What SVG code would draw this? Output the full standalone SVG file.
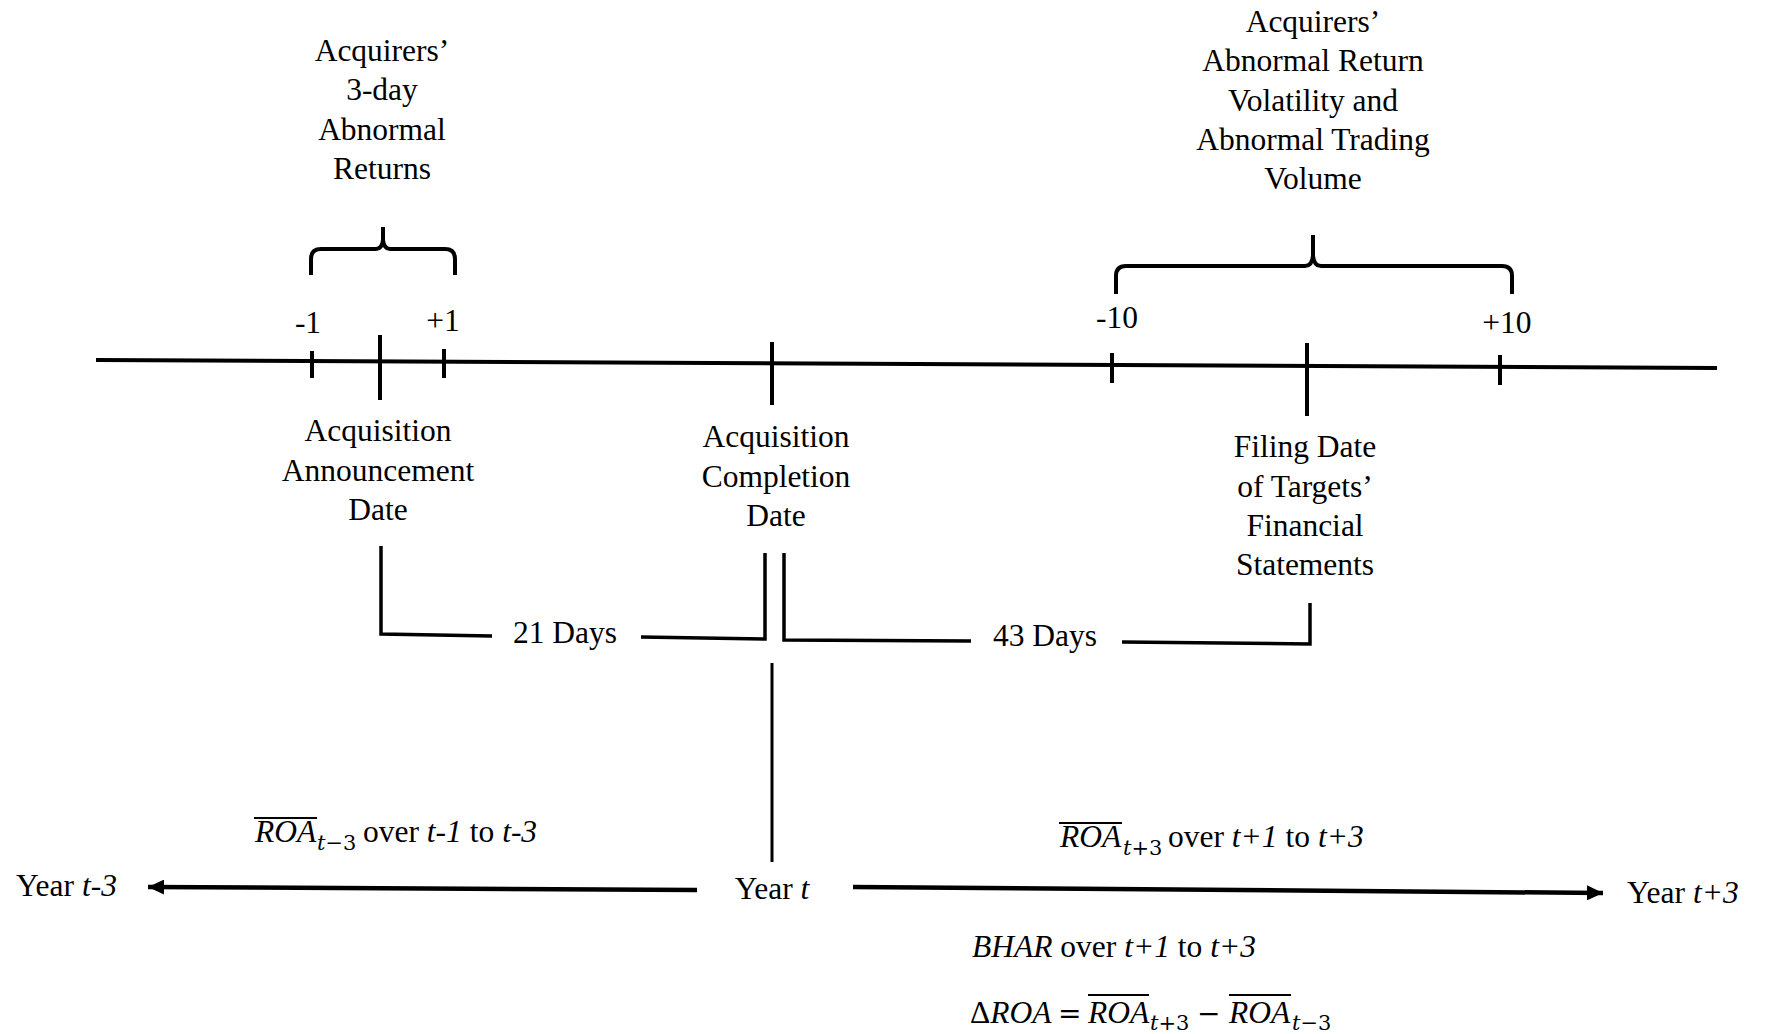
<svg xmlns="http://www.w3.org/2000/svg" width="1766" height="1034" viewBox="0 0 1766 1034">
<style>
.t{font-family:"Liberation Serif","Times New Roman",serif;font-size:31.5px;fill:#000}
.c{text-anchor:middle}
.i{font-style:italic}
.sub{font-family:"DejaVu Serif","Liberation Serif",serif;font-size:21px;fill:#000}
.op{font-family:"DejaVu Serif","Liberation Serif",serif;font-size:28px;fill:#000}
.ln{stroke:#000;stroke-width:3.5;fill:none;stroke-linecap:butt}
.tk{stroke:#000;stroke-width:4;fill:none}
.ov{stroke:#000;stroke-width:2}
</style>
<defs>
<marker id="ah" markerUnits="userSpaceOnUse" markerWidth="16" markerHeight="15" refX="16" refY="7.5" orient="auto">
<path d="M0,0 L16,7.5 L0,15 Z" fill="#000"/>
</marker>
</defs>
<rect width="1766" height="1034" fill="#fff"/>

<g id="connectors">
<line id="timeline" x1="96" y1="360" x2="1717" y2="368" class="tk"/>
<line x1="312" y1="351" x2="312" y2="378" class="tk"/>
<line x1="380" y1="335" x2="380" y2="400" class="tk"/>
<line x1="444" y1="349" x2="444" y2="378" class="tk"/>
<line x1="772" y1="342" x2="772" y2="405" class="tk"/>
<line x1="1112" y1="353" x2="1112" y2="383" class="tk"/>
<line x1="1307" y1="343" x2="1307" y2="416" class="tk"/>
<line x1="1500" y1="355" x2="1500" y2="385" class="tk"/>
<path class="tk" d="M311,275 V259 Q311,249 321,249 H376 Q382,249 383,240 V227 M383,240 Q384,249 390,249 H445 Q455,249 455,259 V275"/>
<path class="tk" d="M1116,294 V276 Q1116,266 1126,266 H1305 Q1312,266 1313,256 V235 M1313,256 Q1314,266 1321,266 H1502 Q1512,266 1512,276 V294"/>
<path class="ln" d="M381,546 V634 L492,636"/>
<path class="ln" d="M641,637 L765,639 V553"/>
<path class="ln" d="M784,553 V640 L971,641"/>
<path class="ln" d="M1122,642 L1310,644 V603"/>
<line x1="772" y1="663" x2="772" y2="862" stroke="#000" stroke-width="3"/>
<line x1="697" y1="890" x2="148" y2="887" stroke="#000" stroke-width="4.5" marker-end="url(#ah)"/>
<line x1="853" y1="887" x2="1603" y2="893" stroke="#000" stroke-width="4.5" marker-end="url(#ah)"/>
</g>

<g id="label-3day">
<text class="t c" x="382" y="61">Acquirers’</text>
<text class="t c" x="382" y="100">3-day</text>
<text class="t c" x="382" y="140">Abnormal</text>
<text class="t c" x="382" y="179">Returns</text>
</g>
<g id="label-volatility">
<text class="t c" x="1313" y="32">Acquirers’</text>
<text class="t c" x="1313" y="71">Abnormal Return</text>
<text class="t c" x="1313" y="111">Volatility and</text>
<text class="t c" x="1313" y="150">Abnormal Trading</text>
<text class="t c" x="1313" y="189">Volume</text>
</g>
<g id="ticks-labels">
<text class="t c" x="308" y="333">-1</text>
<text class="t c" x="443" y="331">+1</text>
<text class="t c" x="1117" y="328">-10</text>
<text class="t c" x="1507" y="333">+10</text>
</g>
<g id="node-announcement">
<text class="t c" x="378" y="441">Acquisition</text>
<text class="t c" x="378" y="481">Announcement</text>
<text class="t c" x="378" y="520">Date</text>
</g>
<g id="node-completion">
<text class="t c" x="776" y="447">Acquisition</text>
<text class="t c" x="776" y="487">Completion</text>
<text class="t c" x="776" y="526">Date</text>
</g>
<g id="node-filing">
<text class="t c" x="1305" y="457">Filing Date</text>
<text class="t c" x="1305" y="497">of Targets’</text>
<text class="t c" x="1305" y="536">Financial</text>
<text class="t c" x="1305" y="575">Statements</text>
</g>
<g id="label-21days">
<text class="t c" x="565" y="643">21 Days</text>
</g>
<g id="label-43days">
<text class="t c" x="1045" y="646">43 Days</text>
</g>
<g id="node-year-t-3">
<text class="t" x="16" y="896">Year <tspan class="i">t-3</tspan></text>
</g>
<g id="node-year-t">
<text class="t c" x="772" y="899">Year <tspan class="i">t</tspan></text>
</g>
<g id="node-year-t+3">
<text class="t" x="1627" y="903">Year <tspan class="i">t+3</tspan></text>
</g>
<g id="label-roa-before">
<text class="t i" x="255" y="842">ROA</text>
<line class="ov" x1="254" y1="818" x2="317" y2="818"/>
<text class="sub" x="317" y="850"><tspan font-style="italic">t</tspan>−3</text>
<text class="t" x="363" y="842">over <tspan class="i">t-1</tspan> to <tspan class="i">t-3</tspan></text>
</g>
<g id="label-roa-after">
<text class="t i" x="1060" y="847">ROA</text>
<line class="ov" x1="1059" y1="823" x2="1122" y2="823"/>
<text class="sub" x="1123" y="855"><tspan font-style="italic">t</tspan>+3</text>
<text class="t" x="1168" y="847">over <tspan class="i">t+1</tspan> to <tspan class="i">t+3</tspan></text>
</g>
<g id="label-bhar">
<text class="t" x="972" y="957"><tspan class="i">BHAR</tspan> over <tspan class="i">t+1</tspan> to <tspan class="i">t+3</tspan></text>
</g>
<g id="label-delta-roa">
<text class="t" x="970" y="1023">Δ<tspan class="i">ROA</tspan></text>
<text class="op" x="1058" y="1023">=</text>
<text class="t i" x="1088" y="1023">ROA</text>
<line class="ov" x1="1088" y1="995" x2="1149" y2="995"/>
<text class="sub" x="1150" y="1030"><tspan font-style="italic">t</tspan>+3</text>
<text class="op" x="1197" y="1023">−</text>
<text class="t i" x="1229" y="1023">ROA</text>
<line class="ov" x1="1229" y1="995" x2="1291" y2="995"/>
<text class="sub" x="1292" y="1030"><tspan font-style="italic">t</tspan>−3</text>
</g>
</svg>
